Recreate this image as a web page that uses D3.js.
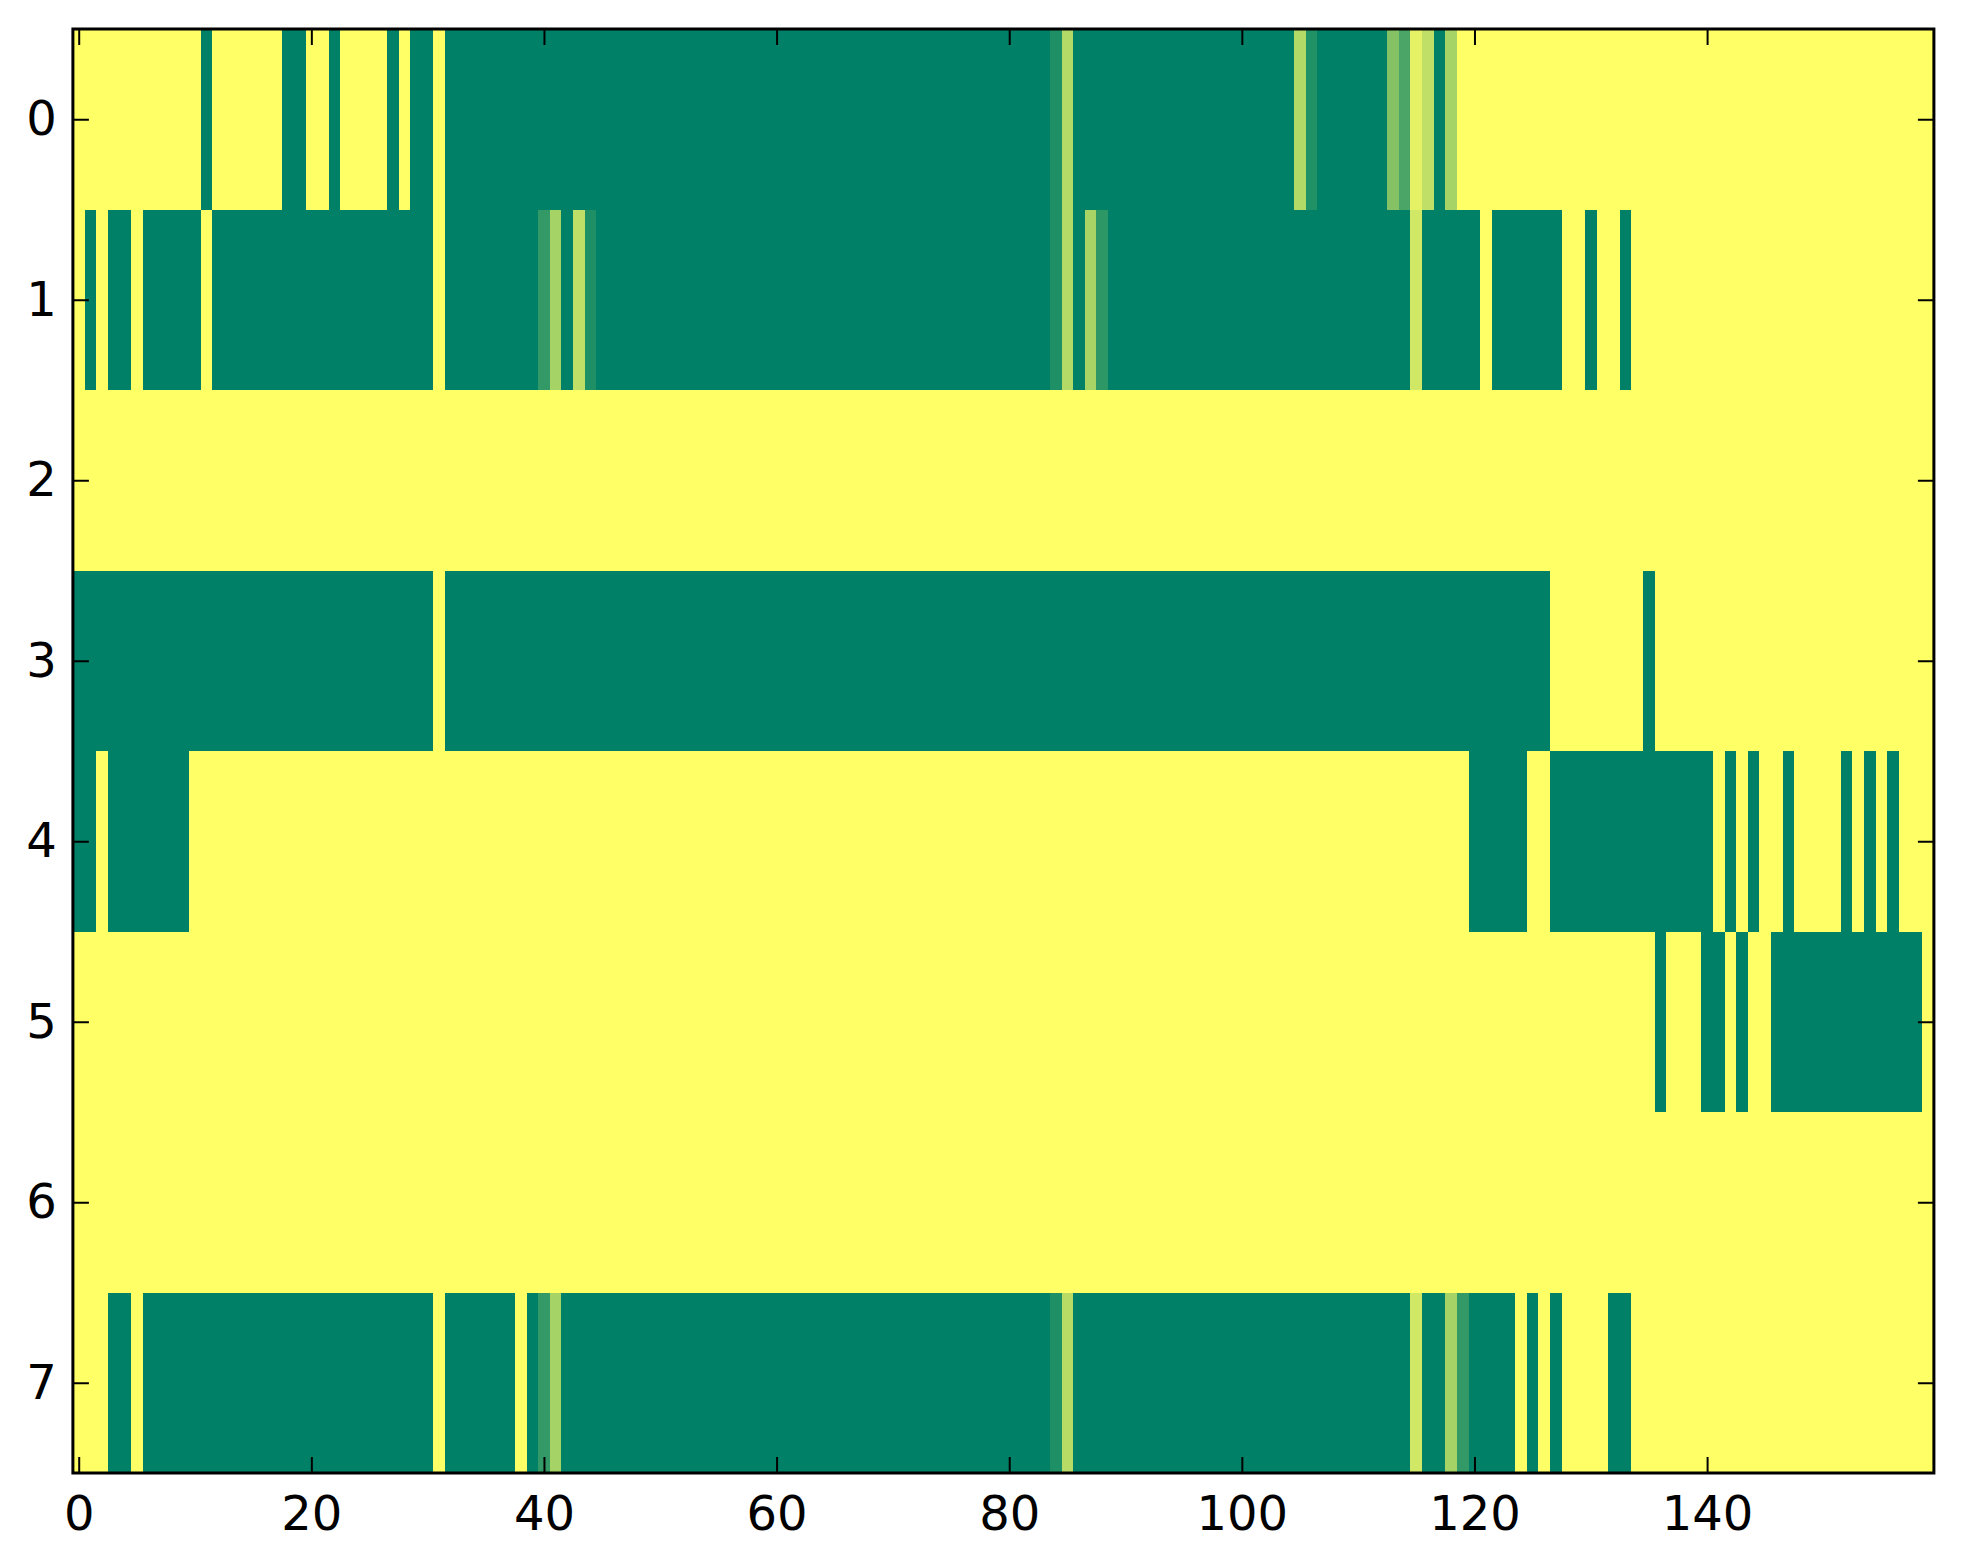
<!DOCTYPE html>
<html>
<head>
<meta charset="utf-8">
<script src="https://d3js.org/d3.v7.min.js"></script>
<style>
  body { margin: 0; background: #fff; }
  .tick text { font-family: "DejaVu Sans", sans-serif; font-size: 48px; fill: #000; }
  .tick line { stroke: #000; stroke-width: 2; }
</style>
</head>
<body>
<div id="chart"></div>
<script>
// one array per heatmap row, 160 cells each (0 = green, 1 = yellow)
var row0 = [
  1,1,1,1,1,1,1,1,1,1, 1,0,1,1,1,1,1,1,0,0,
  1,1,0,1,1,1,1,0,1,0, 0,1,0,0,0,0,0,0,0,0,
  0,0,0,0,0,0,0,0,0,0, 0,0,0,0,0,0,0,0,0,0,
  0,0,0,0,0,0,0,0,0,0, 0,0,0,0,0,0,0,0,0,0,
  0,0,0,0,0.12,0.7,0,0,0,0, 0,0,0,0,0,0,0,0,0,0,
  0,0,0,0,0,0.7,0.13,0,0,0, 0,0,0,0.52,0.29,0.9,0.75,0,0.65,1,
  1,1,1,1,1,1,1,1,1,1, 1,1,1,1,1,1,1,1,1,1,
  1,1,1,1,1,1,1,1,1,1, 1,1,1,1,1,1,1,1,1,1
];
var row1 = [
  1,0,1,0,0,1,0,0,0,0, 0,1,0,0,0,0,0,0,0,0,
  0,0,0,0,0,0,0,0,0,0, 0,1,0,0,0,0,0,0,0,0,
  0.2,0.65,0,0.75,0.12,0,0,0,0,0, 0,0,0,0,0,0,0,0,0,0,
  0,0,0,0,0,0,0,0,0,0, 0,0,0,0,0,0,0,0,0,0,
  0,0,0,0,0.12,0.7,0,0.66,0.18,0, 0,0,0,0,0,0,0,0,0,0,
  0,0,0,0,0,0,0,0,0,0, 0,0,0,0,0,0.82,0,0,0,0,
  0,1,0,0,0,0,0,0,1,1, 0,1,1,0,1,1,1,1,1,1,
  1,1,1,1,1,1,1,1,1,1, 1,1,1,1,1,1,1,1,1,1
];
var row2 = [
  1,1,1,1,1,1,1,1,1,1, 1,1,1,1,1,1,1,1,1,1,
  1,1,1,1,1,1,1,1,1,1, 1,1,1,1,1,1,1,1,1,1,
  1,1,1,1,1,1,1,1,1,1, 1,1,1,1,1,1,1,1,1,1,
  1,1,1,1,1,1,1,1,1,1, 1,1,1,1,1,1,1,1,1,1,
  1,1,1,1,1,1,1,1,1,1, 1,1,1,1,1,1,1,1,1,1,
  1,1,1,1,1,1,1,1,1,1, 1,1,1,1,1,1,1,1,1,1,
  1,1,1,1,1,1,1,1,1,1, 1,1,1,1,1,1,1,1,1,1,
  1,1,1,1,1,1,1,1,1,1, 1,1,1,1,1,1,1,1,1,1
];
var row3 = [
  0,0,0,0,0,0,0,0,0,0, 0,0,0,0,0,0,0,0,0,0,
  0,0,0,0,0,0,0,0,0,0, 0,1,0,0,0,0,0,0,0,0,
  0,0,0,0,0,0,0,0,0,0, 0,0,0,0,0,0,0,0,0,0,
  0,0,0,0,0,0,0,0,0,0, 0,0,0,0,0,0,0,0,0,0,
  0,0,0,0,0,0,0,0,0,0, 0,0,0,0,0,0,0,0,0,0,
  0,0,0,0,0,0,0,0,0,0, 0,0,0,0,0,0,0,0,0,0,
  0,0,0,0,0,0,0,1,1,1, 1,1,1,1,1,0,1,1,1,1,
  1,1,1,1,1,1,1,1,1,1, 1,1,1,1,1,1,1,1,1,1
];
var row4 = [
  0,0,1,0,0,0,0,0,0,0, 1,1,1,1,1,1,1,1,1,1,
  1,1,1,1,1,1,1,1,1,1, 1,1,1,1,1,1,1,1,1,1,
  1,1,1,1,1,1,1,1,1,1, 1,1,1,1,1,1,1,1,1,1,
  1,1,1,1,1,1,1,1,1,1, 1,1,1,1,1,1,1,1,1,1,
  1,1,1,1,1,1,1,1,1,1, 1,1,1,1,1,1,1,1,1,1,
  1,1,1,1,1,1,1,1,1,1, 1,1,1,1,1,1,1,1,1,1,
  0,0,0,0,0,1,1,0,0,0, 0,0,0,0,0,0,0,0,0,0,
  0,1,0,1,0,1,1,0,1,1, 1,1,0,1,0,1,0,1,1,1
];
var row5 = [
  1,1,1,1,1,1,1,1,1,1, 1,1,1,1,1,1,1,1,1,1,
  1,1,1,1,1,1,1,1,1,1, 1,1,1,1,1,1,1,1,1,1,
  1,1,1,1,1,1,1,1,1,1, 1,1,1,1,1,1,1,1,1,1,
  1,1,1,1,1,1,1,1,1,1, 1,1,1,1,1,1,1,1,1,1,
  1,1,1,1,1,1,1,1,1,1, 1,1,1,1,1,1,1,1,1,1,
  1,1,1,1,1,1,1,1,1,1, 1,1,1,1,1,1,1,1,1,1,
  1,1,1,1,1,1,1,1,1,1, 1,1,1,1,1,1,0,1,1,1,
  0,0,1,0,1,1,0,0,0,0, 0,0,0,0,0,0,0,0,0,1
];
var row6 = [
  1,1,1,1,1,1,1,1,1,1, 1,1,1,1,1,1,1,1,1,1,
  1,1,1,1,1,1,1,1,1,1, 1,1,1,1,1,1,1,1,1,1,
  1,1,1,1,1,1,1,1,1,1, 1,1,1,1,1,1,1,1,1,1,
  1,1,1,1,1,1,1,1,1,1, 1,1,1,1,1,1,1,1,1,1,
  1,1,1,1,1,1,1,1,1,1, 1,1,1,1,1,1,1,1,1,1,
  1,1,1,1,1,1,1,1,1,1, 1,1,1,1,1,1,1,1,1,1,
  1,1,1,1,1,1,1,1,1,1, 1,1,1,1,1,1,1,1,1,1,
  1,1,1,1,1,1,1,1,1,1, 1,1,1,1,1,1,1,1,1,1
];
var row7 = [
  1,1,1,0,0,1,0,0,0,0, 0,0,0,0,0,0,0,0,0,0,
  0,0,0,0,0,0,0,0,0,0, 0,1,0,0,0,0,0,0,1,0,
  0.2,0.65,0,0,0,0,0,0,0,0, 0,0,0,0,0,0,0,0,0,0,
  0,0,0,0,0,0,0,0,0,0, 0,0,0,0,0,0,0,0,0,0,
  0,0,0,0,0.12,0.72,0,0,0,0, 0,0,0,0,0,0,0,0,0,0,
  0,0,0,0,0,0,0,0,0,0, 0,0,0,0,0,0.82,0,0,0.65,0.2,
  0,0,0,0,1,0,1,0,1,1, 1,1,0,0,1,1,1,1,1,1,
  1,1,1,1,1,1,1,1,1,1, 1,1,1,1,1,1,1,1,1,1
];
var rows = [row0, row1, row2, row3, row4, row5, row6, row7];
var xTicks = [0, 20, 40, 60, 80, 100, 120, 140];
var yTicks = [0, 1, 2, 3, 4, 5, 6, 7];

var width = 1963;
var height = 1564;
var plotLeft = 72.9;
var plotRight = 1933.9;
var plotTop = 29;
var plotBottom = 1473;
var tickLen = 16;

var svg = d3
  .select("#chart")
  .append("svg")
  .attr("width", width)
  .attr("height", height);

var xScale = d3.scaleLinear().domain([-0.5, 159.5]).range([plotLeft, plotRight]);
var yScale = d3.scaleLinear().domain([-0.5, 7.5]).range([plotTop, plotBottom]);

// matplotlib "summer" colormap
var color = d3.scaleLinear().domain([0, 1]).range(["#008066", "#ffff66"]).interpolate(d3.interpolateRgb);

var cells = [];
rows.forEach(function(r, i) {
  r.forEach(function(v, j) {
    cells.push({ row: i, col: j, value: v });
  });
});

svg
  .append("g")
  .attr("shape-rendering", "crispEdges")
  .selectAll("rect")
  .data(cells)
  .enter()
  .append("rect")
  .attr("x", function(d) { return xScale(d.col - 0.5); })
  .attr("y", function(d) { return yScale(d.row - 0.5); })
  .attr("width", function(d) { return xScale(d.col + 0.5) - xScale(d.col - 0.5) + 0.6; })
  .attr("height", function(d) { return yScale(d.row + 0.5) - yScale(d.row - 0.5) + 0.6; })
  .attr("fill", function(d) { return color(d.value); });

// axes with inward ticks on all four sides
var xBottom = svg.append("g")
  .attr("transform", "translate(0," + plotBottom + ")")
  .call(d3.axisBottom(xScale).tickValues(xTicks).tickSize(-tickLen).tickPadding(23));
var xTop = svg.append("g")
  .attr("transform", "translate(0," + plotTop + ")")
  .call(d3.axisTop(xScale).tickValues(xTicks).tickSize(-tickLen).tickFormat(""));
var yLeft = svg.append("g")
  .attr("transform", "translate(" + plotLeft + ",0)")
  .call(d3.axisLeft(yScale).tickValues(yTicks).tickSize(-tickLen).tickPadding(16));
var yRight = svg.append("g")
  .attr("transform", "translate(" + plotRight + ",0)")
  .call(d3.axisRight(yScale).tickValues(yTicks).tickSize(-tickLen).tickFormat(""));

[xBottom, xTop, yLeft, yRight].forEach(function(g) {
  g.select(".domain").remove();
  g.attr("font-size", null).attr("font-family", null);
});

svg
  .append("rect")
  .attr("x", plotLeft)
  .attr("y", plotTop)
  .attr("width", plotRight - plotLeft)
  .attr("height", plotBottom - plotTop)
  .attr("fill", "none")
  .attr("stroke", "#000")
  .attr("stroke-width", 3);
</script>
</body>
</html>
